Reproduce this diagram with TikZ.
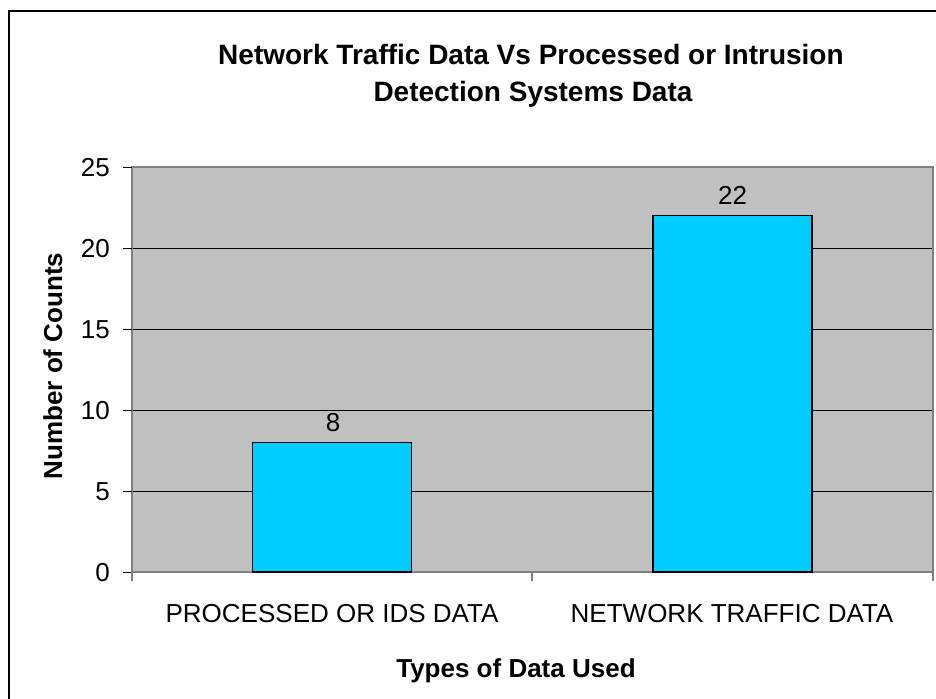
\documentclass[tikz,border=0pt]{standalone}
\usepackage{fontspec}
\setmainfont{Liberation Sans}
\definecolor{plotgray}{HTML}{C0C0C0}
\definecolor{edgegray}{HTML}{808080}
\definecolor{barblue}{HTML}{00CCFF}
\begin{document}
\begin{tikzpicture}[x=1pt,y=-1pt,
  ttl/.style={font=\fontsize{28}{34}\selectfont\bfseries, inner sep=0pt, anchor=base},
  axttl/.style={font=\fontsize{26}{31}\selectfont\bfseries, inner sep=0pt, anchor=base},
  lbl/.style={font=\fontsize{26}{31}\selectfont, inner sep=0pt},
  grid/.style={black, line width=1pt},
  bar/.style={fill=barblue, draw=black, line width=1.6pt},
  tickln/.style={line width=1pt}]
\useasboundingbox (0,0) rectangle (936,698);
\fill[white] (0,0) rectangle (936,698);
\begin{scope}
\clip (0,0) rectangle (936,698);
\draw[line width=2.2pt] (9,711) -- (9,11) -- (950,11);
\end{scope}
% plot area
\fill[plotgray] (132,167) rectangle (933,572);
\foreach \v in {5,10,15,20} {\draw[grid] (132,{572-16.2*\v}) -- (933,{572-16.2*\v});}
\draw[edgegray, line width=1.3pt] (132,167) rectangle (933,572);
% y ticks
\foreach \v in {0,5,10,15,20,25} {\draw[tickln] (123,{572-16.2*\v}) -- (132,{572-16.2*\v});}
\foreach \v in {0,5,10,15,20,25} {\node[lbl, anchor=base east] (yt\v) at (110,{572-16.2*\v+9.3}) {\v};}
% x ticks
\draw[edgegray, line width=1.3pt] (132,572) -- (132,581) (532,572) -- (532,581) (933,572) -- (933,581);
% bars
\draw[bar] (252.5,572) rectangle (411.5,{572-16.2*8});
\draw[bar] (653,572) rectangle (812,{572-16.2*22});
\node[lbl, anchor=base] (v1) at (333,431) {8};
\node[lbl, anchor=base] (v2) at (732.5,204) {22};
% category labels
\node[lbl, anchor=base] (c1) at (332,622) {PROCESSED OR IDS DATA};
\node[lbl, anchor=base] (c2) at (732,622) {NETWORK TRAFFIC DATA};
% titles
\node[ttl] (t1) at (531,65) {Network Traffic Data Vs Processed or Intrusion};
\node[ttl] (t2) at (533,102) {Detection Systems Data};
\node[axttl] (xt) at (516,677) {Types of Data Used};
\node[axttl, rotate=90] (yt) at (62,366) {Number of Counts};
\end{tikzpicture}
\end{document}
